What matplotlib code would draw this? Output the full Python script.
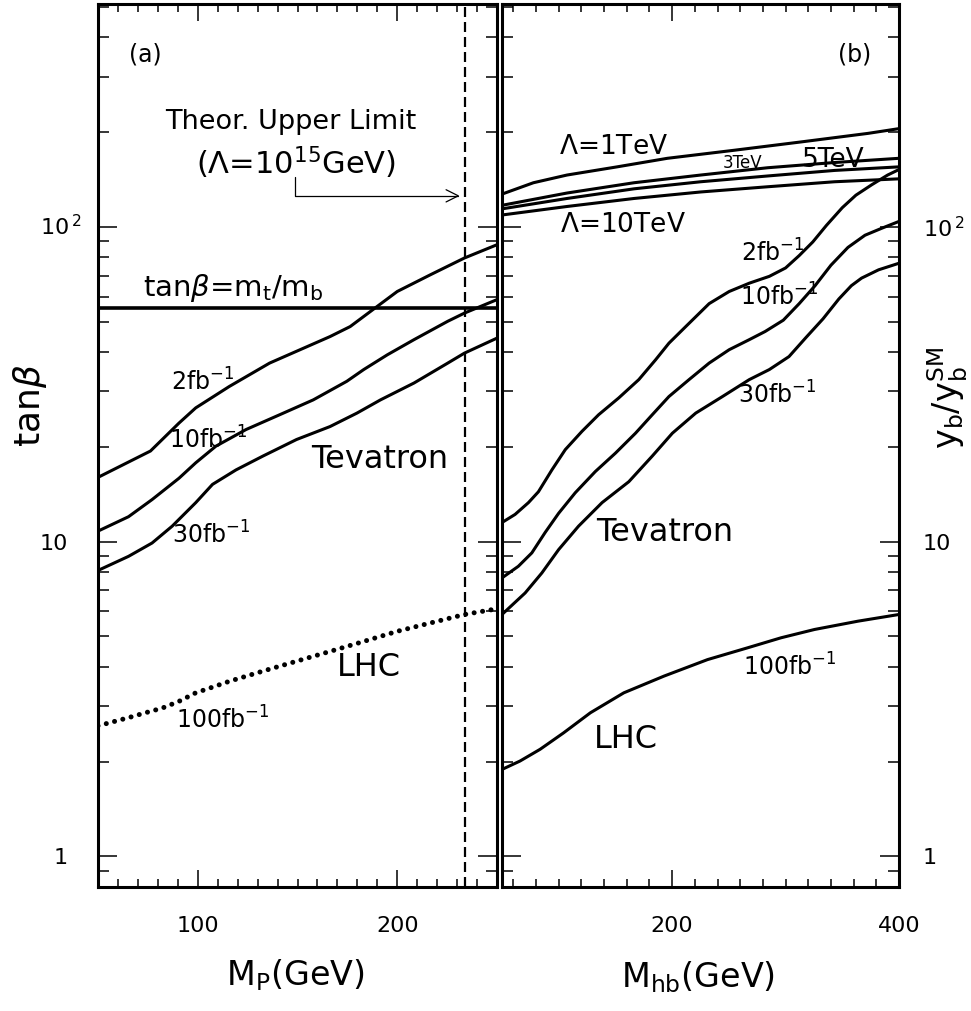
import numpy as np
import matplotlib
matplotlib.use('Agg')
import matplotlib.pyplot as plt
from matplotlib.ticker import MultipleLocator, LogLocator, NullFormatter

plt.rcParams['font.family'] = ['DejaVu Sans']
plt.rcParams['mathtext.fontset'] = 'dejavusans'

# (a) tan(beta) reach vs M_P
mp_2fb = [50, 76.3, 90.6, 99, 115.8, 136, 166.3, 176.4, 186.5, 200, 216.8, 233.7, 250]
tb_2fb = [16.0, 19.4, 23.8, 26.6, 31.1, 36.9, 44.8, 48.2, 53.8, 62.3, 70.5, 79.6, 87.7]
mp_10fb = [50, 65.3, 77.1, 90.6, 99, 109.1, 124.2, 141.1, 157.9, 174.7, 183.2, 195,
           208.4, 225.3, 233.7, 250]
tb_10fb = [10.8, 12.0, 13.6, 15.9, 17.8, 20.1, 22.7, 25.3, 28.2, 32.3, 35.2, 39.2,
           43.8, 50.1, 53.2, 58.7]
mp_30fb = [50, 65.3, 77.1, 87.2, 99, 107.4, 119.2, 132.7, 149.5, 166.3, 179.8, 191.6,
           208.4, 225.3, 233.7, 250]
tb_30fb = [8.1, 8.98, 9.9, 11.2, 13.3, 15.2, 16.9, 18.7, 21.1, 23.2, 25.6, 28.2,
           31.9, 36.9, 39.7, 44.3]
mp_lhc = [50, 65.3, 73.7, 82.2, 90.6, 99, 107.4, 115.8, 132.7, 149.5, 166.3, 183.2,
          200, 216.8, 233.7, 250]
tb_lhc = [2.6, 2.76, 2.86, 2.96, 3.11, 3.31, 3.45, 3.60, 3.88, 4.17, 4.48, 4.82,
          5.19, 5.52, 5.87, 6.12]
tb_mtmb = 55.3
mp_limit = 234

# (b) y_b/y_b^SM reach vs M_hb
mhb_lam1 = [50, 77.7, 107.3, 151.5, 195.8, 254.7, 313.7, 372.7, 400]
yb_lam1 = [127, 138, 146, 155, 165, 175, 186, 198, 205]
mhb_lam = [50, 107.3, 166.4, 225.2, 284.2, 343.2, 400]
yb_lam3 = [117, 128, 138, 146, 154, 160, 165]
yb_lam5 = [114, 123, 132, 139, 145, 151, 155]
yb_lam10 = [109, 116, 123, 129, 134, 139, 142]

mhb_2fb = [50, 61.5, 73.3, 82.1, 94, 105.8, 120.5, 135.2, 152.9, 170.6, 185.4, 197.2,
           212, 232.6, 250.3, 268, 285.7, 300, 312, 324, 336, 350, 362, 376, 390, 400]
yb_2fb = [11.5, 12.2, 13.3, 14.4, 16.9, 19.6, 22.4, 25.3, 28.6, 32.7, 37.8, 42.7,
          48.2, 57, 62.3, 66.2, 69.6, 74, 81, 89.5, 101, 115, 126, 136, 146, 152]
mhb_10fb = [50, 64.4, 76.3, 88.1, 99.9, 114.6, 132.3, 150, 167.7, 182.5, 197.2, 214.9,
            232.6, 250.3, 268, 282, 298, 312, 326, 340, 355, 370, 385, 400]
yb_10fb = [7.67, 8.35, 9.21, 10.7, 12.3, 14.3, 16.7, 19.1, 22.1, 25.3, 28.9, 32.7,
           36.9, 40.7, 43.8, 46.5, 50.5, 57, 65, 75.5, 86, 94, 99, 104]
mhb_30fb = [50, 70.4, 85.1, 99.9, 117.5, 138.2, 161.8, 182.5, 200.2, 220.8, 244.4, 268,
            285.7, 303, 318, 333, 347, 358, 367, 382, 400]
yb_30fb = [5.87, 6.87, 7.95, 9.43, 11.2, 13.3, 15.5, 18.7, 22.1, 25.6, 28.9, 32.7,
           35.2, 38.7, 44.5, 51, 59, 65, 68.7, 73, 76.6]
mhb_lhc = [50, 65.9, 83.6, 104.3, 127.9, 157.4, 192.8, 231.2, 266.5, 296, 325.5, 363.9, 400]
yb_lhc = [1.89, 2.01, 2.19, 2.47, 2.86, 3.31, 3.74, 4.22, 4.60, 4.95, 5.26, 5.59, 5.87]

ytick_vals = [1, 10, 100]
ytick_text = ['1', '10', r'10$^{\,2}$']

LW = 2.2


def style_axes(ax, xmin, xmax, major, minor):
    ax.set_yscale('log')
    ax.set_xlim(xmin, xmax)
    ax.set_ylim(0.8, 510)
    ax.xaxis.set_major_locator(MultipleLocator(major))
    ax.xaxis.set_minor_locator(MultipleLocator(minor))
    ax.set_yticks(ytick_vals, labels=ytick_text)
    ax.yaxis.set_minor_locator(LogLocator(base=10, subs=np.arange(2, 10), numticks=20))
    ax.yaxis.set_minor_formatter(NullFormatter())
    ax.tick_params(which='both', direction='in', top=True, right=True,
                   width=1.1, labelsize=16)
    ax.tick_params(axis='y', which='major', length=14)
    ax.tick_params(axis='y', which='minor', length=8)
    ax.tick_params(axis='x', which='major', length=12, pad=21)
    ax.tick_params(axis='x', which='minor', length=6)
    for s in ax.spines.values():
        s.set_linewidth(2.2)


fig = plt.figure(figsize=(9.71, 10.11), dpi=100)
ax1 = fig.add_axes([98 / 971, 124 / 1011, 399 / 971, 883 / 1011])
ax2 = fig.add_axes([502 / 971, 124 / 1011, 397 / 971, 883 / 1011])

# ---- panel (a)
style_axes(ax1, 50, 250, 100, 10)
ax1.tick_params(axis='y', which='major', pad=22)
# the 10^2 label sits with its base under the "10" label, exponent sticking out
ax1.set_yticks(ytick_vals, labels=['1', '10', ''])
ax1.text(-0.1454, 100, ytick_text[2], fontsize=16, ha='left', va='center',
         transform=ax1.get_yaxis_transform())

ax1.plot(mp_2fb, tb_2fb, 'k-', lw=LW)
ax1.plot(mp_10fb, tb_10fb, 'k-', lw=LW)
ax1.plot(mp_30fb, tb_30fb, 'k-', lw=LW)
ax1.plot(mp_lhc, tb_lhc, color='k', lw=3.6, linestyle=(0, (0.01, 1.7)),
         dash_capstyle='round')
ax1.axhline(tb_mtmb, color='k', lw=2.6)
ax1.axvline(mp_limit, color='k', lw=1.6, linestyle=(0, (4.5, 2.25)))

ax1.text(73.7, 352, '(a)', fontsize=17, ha='center', va='center')
ax1.text(146.5, 215, 'Theor. Upper Limit', fontsize=19.5, ha='center', va='center')
ax1.text(149, 160, r'($\Lambda$=10$^{15}$GeV)', fontsize=22, ha='center', va='center')
ax1.annotate('', xy=(231.3, 125.4), xytext=(148.5, 144),
             arrowprops=dict(arrowstyle='->', lw=0.9, mutation_scale=22,
                             shrinkA=0, shrinkB=0, color='k',
                             connectionstyle='angle,angleA=90,angleB=0,rad=0'))
ax1.text(118, 64, r'tan$\beta$=m$_\mathrm{t}$/m$_\mathrm{b}$', fontsize=21,
         ha='center', va='center')
ax1.text(102.6, 32.2, r'2fb$^{-1}$', fontsize=17, ha='center', va='center')
ax1.text(105.3, 21.1, r'10fb$^{-1}$', fontsize=17, ha='center', va='center')
ax1.text(106.8, 10.5, r'30fb$^{-1}$', fontsize=17, ha='center', va='center')
ax1.text(191, 18.2, 'Tevatron', fontsize=23, ha='center', va='center')
ax1.text(186, 3.98, 'LHC', fontsize=23, ha='center', va='center')
ax1.text(112.6, 2.72, r'100fb$^{-1}$', fontsize=17, ha='center', va='center')

# ---- panel (b)
style_axes(ax2, 50, 400, 200, 20)
ax2.tick_params(axis='y', which='major', labelleft=False, labelright=True, pad=17)
ax2.plot(mhb_lam1, yb_lam1, 'k-', lw=LW)
for yb in (yb_lam3, yb_lam5, yb_lam10):
    ax2.plot(mhb_lam, yb, 'k-', lw=LW)
ax2.plot(mhb_2fb, yb_2fb, 'k-', lw=LW)
ax2.plot(mhb_10fb, yb_10fb, 'k-', lw=LW)
ax2.plot(mhb_30fb, yb_30fb, 'k-', lw=LW)
ax2.plot(mhb_lhc, yb_lhc, 'k-', lw=LW)

ax2.text(360.6, 352, '(b)', fontsize=17, ha='center', va='center')
ax2.text(148, 179, r'$\Lambda$=1TeV', fontsize=19, ha='center', va='center')
ax2.text(262, 160, '3TeV', fontsize=12, ha='center', va='center')
ax2.text(342, 163, '5TeV', fontsize=19, ha='center', va='center')
ax2.text(156.6, 101, r'$\Lambda$=10TeV', fontsize=19, ha='center', va='center')
ax2.text(288.5, 82.7, r'2fb$^{-1}$', fontsize=17, ha='center', va='center')
ax2.text(294, 60, r'10fb$^{-1}$', fontsize=17, ha='center', va='center')
ax2.text(292.5, 29.3, r'30fb$^{-1}$', fontsize=17, ha='center', va='center')
ax2.text(193, 10.7, 'Tevatron', fontsize=23, ha='center', va='center')
ax2.text(304, 4.01, r'100fb$^{-1}$', fontsize=17, ha='center', va='center')
ax2.text(159, 2.35, 'LHC', fontsize=23, ha='center', va='center')

# axis titles
fig.text(295 / 971, 1 - 975 / 1011, r'M$_\mathrm{P}$(GeV)', fontsize=24,
         ha='center', va='center')
fig.text(698 / 971, 1 - 977 / 1011, r'M$_\mathrm{hb}$(GeV)', fontsize=24,
         ha='center', va='center')
fig.text(30 / 971, 1 - 405 / 1011, r'tan$\beta$', fontsize=26, rotation=90,
         ha='center', va='center')
fig.text(948 / 971, 1 - 398 / 1011, r'y$_\mathrm{b}$/y$_\mathrm{b}^\mathrm{SM}$',
         fontsize=24, rotation=90, ha='center', va='center')

fig.savefig('out.png', dpi=100)
plt.close(fig)
